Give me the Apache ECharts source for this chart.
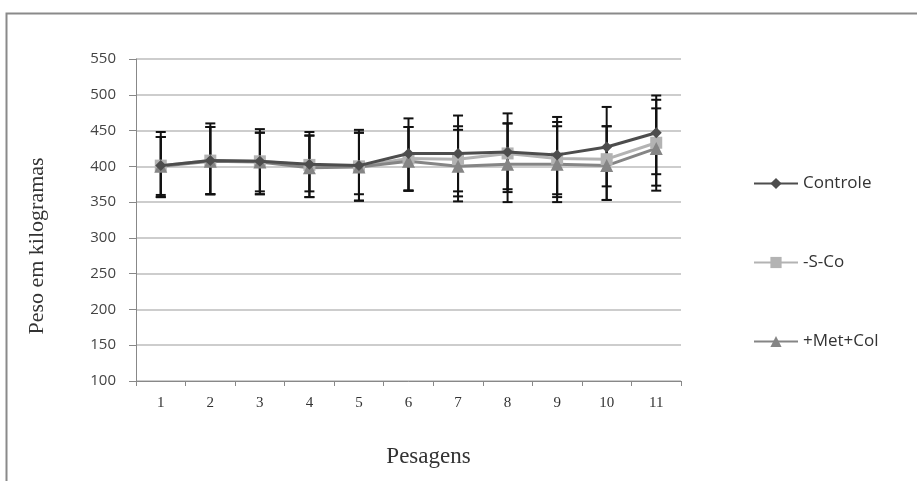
<!DOCTYPE html>
<html><head><meta charset="utf-8">
<script src="https://cdn.jsdelivr.net/npm/echarts@6/dist/echarts.min.js"></script>
<style>html,body{margin:0;padding:0;background:#fff}#c{width:917px;height:481px}</style>
</head><body><div id="c"></div>
<script>
const categories = ['1','2','3','4','5','6','7','8','9','10','11'];
const seriesNames = ['Controle','-S-Co','+Met+Col'];
const controle = [401, 408, 407, 403, 401, 418, 418, 420, 416, 427, 447];
const semCo    = [401, 408, 407, 402, 400, 411, 410, 418, 411, 410, 433];
const metCol   = [400, 407, 406, 398, 399, 407, 400, 403, 403, 401, 425];
const controleHi = [448, 460, 452, 448, 451, 467, 471, 474, 469, 483, 499];
const controleLo = [360, 361, 365, 357, 352, 366, 365, 368, 361, 372, 389];
const semCoHi    = [441, 455, 447, 443, 447, 455, 456, 460, 462, 456, 493];
const semCoLo    = [357, 361, 361, 365, 361, 366, 358, 364, 357, 353, 373];
const metColHi   = [441, 455, 447, 443, 447, 455, 451, 460, 456, 456, 481];
const metColLo   = [357, 361, 361, 357, 352, 366, 351, 350, 350, 353, 366];

const chart = echarts.init(document.getElementById('c'));
function errData(hi, lo){ return categories.map((c,i)=>[i, lo[i], hi[i]]); }
function errSeries(hi, lo){
  return {
    type:'custom', z:1, silent:true,
    data: errData(hi, lo),
    encode:{x:0, y:[1,2]},
    renderItem:function(params, api){
      const x = api.value(0);
      const p1 = api.coord([x, api.value(1)]);
      const p2 = api.coord([x, api.value(2)]);
      const w = 5;
      const st = {stroke:'#111', lineWidth:2};
      return {type:'group', children:[
        {type:'line', shape:{x1:p1[0],y1:p1[1],x2:p2[0],y2:p2[1]}, style:st},
        {type:'line', shape:{x1:p1[0]-w,y1:p1[1],x2:p1[0]+w,y2:p1[1]}, style:st},
        {type:'line', shape:{x1:p2[0]-w,y1:p2[1],x2:p2[0]+w,y2:p2[1]}, style:st}
      ]};
    }
  };
}
const serif = '"Liberation Serif", "DejaVu Serif", serif';
const sans = '"Open Sans", "Liberation Sans", sans-serif';
chart.setOption({
  animation:false,
  backgroundColor:'#fff',
  graphic:[{type:'rect', shape:{x:6.5,y:13.5,width:940,height:480}, style:{fill:'none', stroke:'#8a8a8a', lineWidth:2}, z:-1}],
  grid:{left:136, right:236, top:59, bottom:100},
  legend:{
    orient:'vertical', left:748, top:170, itemGap:62, itemWidth:44, itemHeight:14,
    data: seriesNames,
    textStyle:{fontFamily:sans, fontSize:17, color:'#333'}
  },
  xAxis:{
    type:'category', data:categories, boundaryGap:true,
    name:'Pesagens', nameLocation:'middle', nameGap:64,
    nameTextStyle:{fontFamily:serif, fontSize:23, color:'#333', padding:[0,0,0,40]},
    axisLine:{lineStyle:{color:'#888', width:1}},
    axisTick:{show:true, length:5, lineStyle:{color:'#888'}},
    axisLabel:{fontFamily:serif, fontSize:15, color:'#333', margin:15}
  },
  yAxis:{
    type:'value', min:100, max:550, interval:50,
    name:'Peso em kilogramas', nameLocation:'middle', nameGap:88, nameRotate:90,
    nameTextStyle:{fontFamily:serif, fontSize:22, color:'#333', padding:[0,52,0,0]},
    axisLine:{show:true, lineStyle:{color:'#888', width:1}},
    axisTick:{show:true, length:7, lineStyle:{color:'#888'}},
    axisLabel:{fontFamily:sans, fontSize:15, color:'#444', margin:20},
    splitLine:{lineStyle:{color:'#bdbdbd', width:1.5}}
  },
  series:[
    errSeries(controleHi, controleLo),
    errSeries(semCoHi, semCoLo),
    errSeries(metColHi, metColLo),
    {name:seriesNames[0], type:'line', data:controle, z:5, symbol:'diamond', symbolSize:11,
     itemStyle:{color:'#4d4d4d'}, lineStyle:{color:'#4d4d4d', width:3}},
    {name:seriesNames[1], type:'line', data:semCo, z:4, symbol:'rect', symbolSize:12,
     itemStyle:{color:'#b3b3b3'}, lineStyle:{color:'#b3b3b3', width:3}},
    {name:seriesNames[2], type:'line', data:metCol, z:4, symbol:'triangle', symbolSize:13,
     itemStyle:{color:'#858585'}, lineStyle:{color:'#858585', width:3}}
  ]
});
</script></body></html>
